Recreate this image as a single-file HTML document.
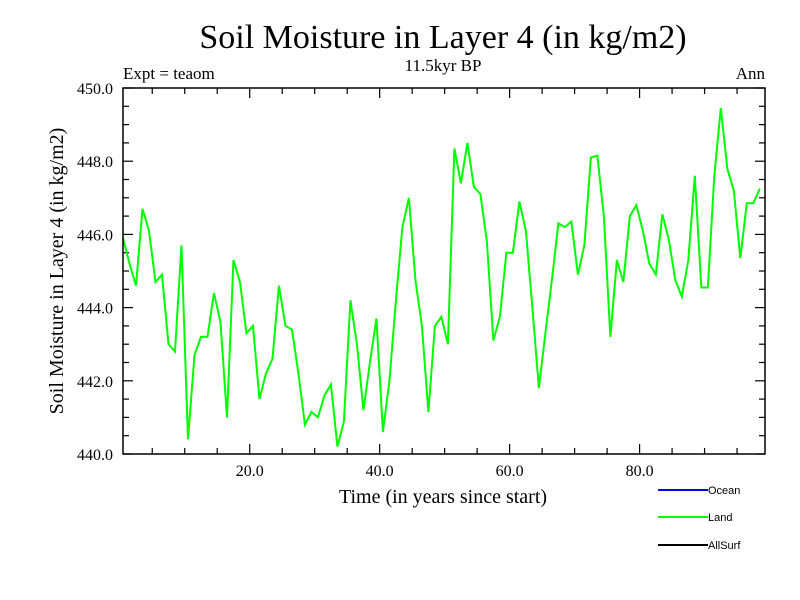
<!DOCTYPE html>
<html><head><meta charset="utf-8"><style>
body{margin:0;background:#fff;}
svg{display:block;font-family:"Liberation Serif",serif;}
</style></head><body>
<svg id="chart" width="800" height="600" xmlns="http://www.w3.org/2000/svg">
<text x="443" y="48" font-size="34" text-anchor="middle">Soil Moisture in Layer 4 (in kg/m2)</text>
<text x="443" y="71" font-size="17" text-anchor="middle">11.5kyr BP</text>
<text x="123" y="79" font-size="17">Expt = teaom</text>
<text x="765" y="79" font-size="17" text-anchor="end">Ann</text>
<text transform="translate(63,271) rotate(-90)" font-size="20" text-anchor="middle">Soil Moisture in Layer 4 (in kg/m2)</text>
<text x="443" y="503" font-size="20" text-anchor="middle">Time (in years since start)</text>
<g id="ticks"></g>
<polyline id="series" fill="none" stroke="#00ff00" stroke-width="2"/>
<rect x="123" y="88" width="642" height="366" fill="none" stroke="#000" stroke-width="1.5"/>
<g font-family="Liberation Sans, sans-serif" font-size="11">
<line x1="658" y1="490" x2="708" y2="490" stroke="#0000ff" stroke-width="2"/>
<text x="708" y="494">Ocean</text>
<line x1="658" y1="517" x2="708" y2="517" stroke="#00ff00" stroke-width="2"/>
<text x="708" y="521">Land</text>
<line x1="658" y1="545" x2="708" y2="545" stroke="#000" stroke-width="2"/>
<text x="708" y="549">AllSurf</text>
</g>
</svg>
<script>
const values=[445.9,445.2,444.6,446.7,446.1,444.7,444.9,443.0,442.8,445.7,440.4,442.7,443.2,443.2,444.4,443.6,441.0,445.3,444.7,443.3,443.5,441.5,442.2,442.6,444.6,443.5,443.4,442.2,440.8,441.15,441.0,441.6,441.9,440.2,440.9,444.2,443.0,441.2,442.5,443.7,440.6,442.0,444.2,446.2,447.0,444.75,443.5,441.15,443.5,443.75,443.0,448.35,447.4,448.5,447.3,447.1,445.8,443.1,443.75,445.5,445.5,446.9,446.1,444.0,441.8,443.3,444.75,446.3,446.2,446.35,444.9,445.7,448.1,448.15,446.5,443.2,445.3,444.7,446.5,446.8,446.1,445.2,444.9,446.55,445.85,444.75,444.3,445.3,447.6,444.55,444.55,447.6,449.45,447.8,447.2,445.35,446.85,446.85,447.25];
const startYear=0.5;
const yTicks=[440,442,444,446,448,450];
const xTicks=[20,40,60,80];
const X0=123,X1=765,Y0=454,Y1=88,XMIN=0.5,XMAX=99.3,YMIN=440,YMAX=450;
function xs(v){return X0+(v-XMIN)/(XMAX-XMIN)*(X1-X0);}
function ys(v){return Y0-(v-YMIN)/(YMAX-YMIN)*(Y0-Y1);}
const NS="http://www.w3.org/2000/svg";
const g=document.getElementById('ticks');
function line(x1,y1,x2,y2){const l=document.createElementNS(NS,'line');l.setAttribute('x1',x1);l.setAttribute('y1',y1);l.setAttribute('x2',x2);l.setAttribute('y2',y2);l.setAttribute('stroke','#000');l.setAttribute('stroke-width','1.2');


g.appendChild(l);}
function text(x,y,s,anchor,name){const t=document.createElementNS(NS,'text');t.setAttribute('x',x);t.setAttribute('y',y);t.setAttribute('font-size','16');t.setAttribute('text-anchor',anchor);t.textContent=s;


g.appendChild(t);}
for(let v=YMIN;v<=YMAX+1e-9;v+=0.5){const y=ys(v);const major=Math.abs(v/2-Math.round(v/2))<1e-6;const L=major?10:6;line(X0,y,X0+L,y);line(X1-L,y,X1,y);}
for(let v=5;v<XMAX;v+=5){const x=xs(v);const major=v%20===0;const L=major?10:6;line(x,Y0,x,Y0-L);line(x,Y1,x,Y1+L);}
yTicks.forEach(v=>text(113,ys(v)+6,v.toFixed(1),'end','y-tick-label'));
xTicks.forEach(v=>text(xs(v),476,v.toFixed(1),'middle','x-tick-label'));
document.getElementById('series').setAttribute('points',values.map((v,i)=>xs(startYear+i).toFixed(2)+','+ys(v).toFixed(2)).join(' '));
</script>
</body></html>
